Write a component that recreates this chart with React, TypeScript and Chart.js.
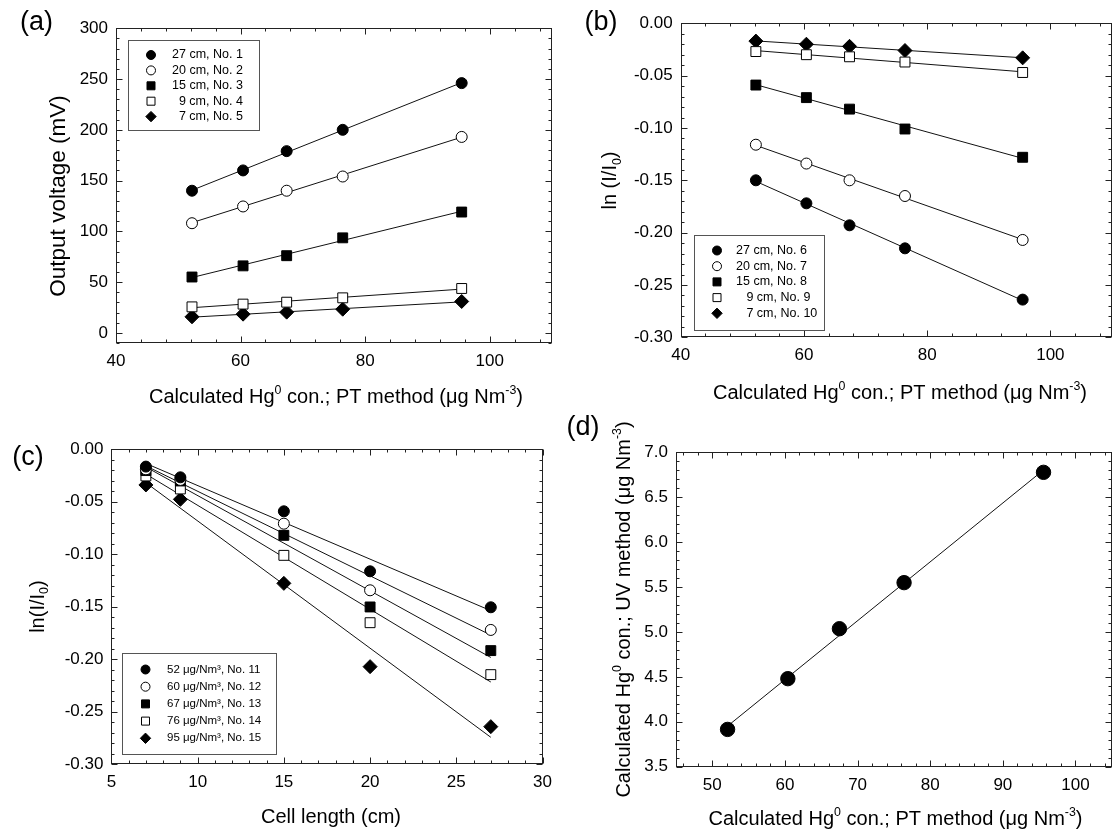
import React, { useEffect, useRef } from 'react';
import { Chart, registerables } from 'chart.js';

Chart.register(...registerables);

const FONT = '"Liberation Sans", Arial, Helvetica, sans-serif';

// ---------- Panel (a): output voltage vs Hg0 concentration ----------
const concPT = [52.2, 60.4, 67.4, 76.4, 95.5];
const voltNo1 = [140, 160, 179, 200, 246];
const voltNo2 = [108, 124.5, 140, 154, 193];
const voltNo3 = [55, 66, 76, 93.6, 119];
const voltNo4 = [25.6, 28.3, 30.2, 34.5, 43.7];
const voltNo5 = [15.8, 18.4, 20.4, 23.3, 30.9];
const legendA = ['27 cm, No. 1', '20 cm, No. 2', '15 cm, No. 3', '  9 cm, No. 4', '  7 cm, No. 5'];
const xTicksA = [40, 60, 80, 100];
const yTicksA = [0, 50, 100, 150, 200, 250, 300];

// ---------- Panel (b): ln(I/I0) vs Hg0 concentration ----------
const lnNo6 = [-0.150, -0.172, -0.193, -0.215, -0.264];
const lnNo7 = [-0.116, -0.134, -0.150, -0.165, -0.207];
const lnNo8 = [-0.059, -0.071, -0.082, -0.101, -0.128];
const lnNo9 = [-0.027, -0.030, -0.032, -0.037, -0.047];
const lnNo10 = [-0.017, -0.020, -0.022, -0.026, -0.033];
const legendB = ['27 cm, No. 6', '20 cm, No. 7', '15 cm, No. 8', '   9 cm, No. 9', '   7 cm, No. 10'];
const xTicksB = [40, 60, 80, 100];
const yTicksLn = [-0.3, -0.25, -0.2, -0.15, -0.1, -0.05, 0];

// ---------- Panel (c): ln(I/I0) vs cell length ----------
const cellLength = [7, 9, 15, 20, 27];
const lnC52 = [-0.0165, -0.0267, -0.0591, -0.1163, -0.1506];
const lnC60 = [-0.0191, -0.0292, -0.0709, -0.1344, -0.1722];
const lnC67 = [-0.0203, -0.0302, -0.0820, -0.1503, -0.1919];
const lnC76 = [-0.0254, -0.0378, -0.1011, -0.1653, -0.2148];
const lnC95 = [-0.0340, -0.0477, -0.1278, -0.2072, -0.2644];
const legendC = ['52 μg/Nm³, No. 11', '60 μg/Nm³, No. 12', '67 μg/Nm³, No. 13', '76 μg/Nm³, No. 14', '95 μg/Nm³, No. 15'];
const xTicksC = [5, 10, 15, 20, 25, 30];

// ---------- Panel (d): UV method vs PT method ----------
const concPTd = [52.1, 60.4, 67.5, 76.4, 95.6];
const concUV = [3.915, 4.48, 5.036, 5.549, 6.777];
const xTicksD = [50, 60, 70, 80, 90, 100];
const yTicksD = [3.5, 4.0, 4.5, 5.0, 5.5, 6.0, 6.5, 7.0];

type Marker = 'circle' | 'openCircle' | 'square' | 'openSquare' | 'diamond';
const MARKERS: Marker[] = ['circle', 'openCircle', 'square', 'openSquare', 'diamond'];
type Seg = { t: string; sup?: boolean; sub?: boolean };

const titlePT: Seg[] = [{ t: 'Calculated Hg' }, { t: '0', sup: true }, { t: ' con.; PT method (μg Nm' }, { t: '-3', sup: true }, { t: ')' }];
const titleUV: Seg[] = [{ t: 'Calculated Hg' }, { t: '0', sup: true }, { t: ' con.; UV method (μg Nm' }, { t: '-3', sup: true }, { t: ')' }];

interface Series { xs: number[]; ys: number[]; marker: Marker; r: number }
interface LegendCfg { box: [number, number, number, number]; mx: number; tx: number; row0: number; gap: number; labels: string[]; size: number }
interface PanelCfg {
  id: string; ox: number; oy: number; w: number; h: number;
  area: { l: number; r: number; t: number; b: number };
  xMin: number; xMax: number; yMin: number; yMax: number;
  xTicks: number[]; yTicks: number[]; xMinor: number; yMinor: number;
  xFmt: (v: number) => string; yFmt: (v: number) => string;
  series: Series[]; legend?: LegendCfg;
  xTitle: Seg[]; xTitlePos: [number, number];
  yTitle: Seg[]; yTitlePos: [number, number]; yTitleSize: number;
  label: string; labelPos: [number, number];
}

function fitLine(xs: number[], ys: number[]) {
  const n = xs.length;
  const mx = xs.reduce((a, b) => a + b, 0) / n;
  const my = ys.reduce((a, b) => a + b, 0) / n;
  let sxx = 0, sxy = 0;
  for (let i = 0; i < n; i++) { sxx += (xs[i] - mx) ** 2; sxy += (xs[i] - mx) * (ys[i] - my); }
  const b = sxy / sxx, a = my - b * mx;
  const x0 = Math.min(...xs), x1 = Math.max(...xs);
  return [{ x: x0, y: a + b * x0 }, { x: x1, y: a + b * x1 }];
}

function drawMarker(ctx: CanvasRenderingContext2D, m: Marker, x: number, y: number, s: number) {
  ctx.save();
  ctx.lineWidth = 1;
  ctx.strokeStyle = '#000';
  ctx.fillStyle = m === 'openCircle' || m === 'openSquare' ? '#fff' : '#000';
  ctx.beginPath();
  if (m === 'circle' || m === 'openCircle') ctx.arc(x, y, s, 0, Math.PI * 2);
  else if (m === 'square' || m === 'openSquare') ctx.rect(x - s, y - s, 2 * s, 2 * s);
  else { ctx.moveTo(x, y - s * 1.3); ctx.lineTo(x + s * 1.3, y); ctx.lineTo(x, y + s * 1.3); ctx.lineTo(x - s * 1.3, y); ctx.closePath(); }
  ctx.fill();
  ctx.stroke();
  ctx.restore();
}

function drawRich(ctx: CanvasRenderingContext2D, segs: Seg[], cx: number, cy: number, size: number, rotate: boolean) {
  ctx.save();
  ctx.translate(cx, cy);
  if (rotate) ctx.rotate(-Math.PI / 2);
  ctx.fillStyle = '#000';
  ctx.textBaseline = 'alphabetic';
  ctx.textAlign = 'left';
  const small = size * 0.62;
  const fonts = segs.map(s => `${s.sup || s.sub ? small : size}px ${FONT}`);
  const widths = segs.map((s, i) => { ctx.font = fonts[i]; return ctx.measureText(s.t).width; });
  const total = widths.reduce((a, b) => a + b, 0);
  let x = -total / 2;
  const base = size * 0.358;
  segs.forEach((s, i) => {
    ctx.font = fonts[i];
    const dy = s.sup ? -size * 0.45 : s.sub ? size * 0.22 : 0;
    ctx.fillText(s.t, x, base + dy);
    x += widths[i];
  });
  ctx.restore();
}

function markerDataset(m: Marker, r: number) {
  const open = m === 'openCircle' || m === 'openSquare';
  const style = m === 'circle' || m === 'openCircle' ? 'circle' : m === 'diamond' ? 'rectRot' : 'rect';
  return {
    pointStyle: style, pointRadius: r, pointHoverRadius: r,
    pointBackgroundColor: open ? '#fff' : '#000', pointBorderColor: '#000', pointBorderWidth: 1,
    backgroundColor: open ? '#fff' : '#000', borderColor: '#000', showLine: false,
  };
}

function decorPlugin(cfg: PanelCfg) {
  return {
    id: 'decor' + cfg.id,
    afterDraw(chart: any) {
      const ctx: CanvasRenderingContext2D = chart.ctx;
      const { left, right, top, bottom } = chart.chartArea;
      const sx = chart.scales.x, sy = chart.scales.y;
      const L = Math.round(left) + 0.5, R = Math.round(right) - 0.5, T = Math.round(top) + 0.5, B = Math.round(bottom) - 0.5;
      ctx.save();
      ctx.strokeStyle = '#222';
      ctx.lineWidth = 1;
      ctx.strokeRect(L, T, R - L, B - T);
      const seg = (x1: number, y1: number, x2: number, y2: number) => { ctx.beginPath(); ctx.moveTo(x1, y1); ctx.lineTo(x2, y2); ctx.stroke(); };
      const tickX = (v: number, len: number) => { const p = Math.round(sx.getPixelForValue(v)) + 0.5; seg(p, B, p, B - len); seg(p, T, p, T + len); };
      const tickY = (v: number, len: number) => { const p = Math.round(sy.getPixelForValue(v)) + 0.5; seg(L, p, L + len, p); seg(R, p, R - len, p); };
      const minorVals = (min: number, max: number, step: number, majors: number[]) => {
        const out: number[] = [];
        for (let k = Math.ceil(min / step - 1e-9); k <= Math.floor(max / step + 1e-9); k++) {
          const v = k * step;
          if (!majors.some(m => Math.abs(m - v) < step * 1e-3)) out.push(v);
        }
        return out;
      };
      cfg.xTicks.forEach(v => tickX(v, 6));
      cfg.yTicks.forEach(v => tickY(v, 6));
      minorVals(cfg.xMin, cfg.xMax, cfg.xMinor, cfg.xTicks).forEach(v => tickX(v, 3));
      minorVals(cfg.yMin, cfg.yMax, cfg.yMinor, cfg.yTicks).forEach(v => tickY(v, 3));
      ctx.restore();

      if (cfg.legend) {
        const lg = cfg.legend;
        const [x1, y1, x2, y2] = lg.box;
        ctx.save();
        ctx.fillStyle = '#fff';
        ctx.fillRect(x1 - cfg.ox, y1 - cfg.oy, x2 - x1, y2 - y1);
        ctx.strokeStyle = '#555';
        ctx.lineWidth = 1;
        ctx.strokeRect(Math.round(x1 - cfg.ox) + 0.5, Math.round(y1 - cfg.oy) + 0.5, Math.round(x2 - x1), Math.round(y2 - y1));
        ctx.font = `${lg.size}px ${FONT}`;
        ctx.textBaseline = 'middle';
        ctx.textAlign = 'left';
        lg.labels.forEach((lab, i) => {
          const y = lg.row0 + i * lg.gap - cfg.oy;
          const m = cfg.series[i].marker;
          drawMarker(ctx, m, lg.mx - cfg.ox, y, m === 'circle' || m === 'openCircle' ? 4.5 : 4);
          ctx.fillStyle = '#000';
          ctx.fillText(lab, lg.tx - cfg.ox, y);
        });
        ctx.restore();
      }

      drawRich(ctx, cfg.xTitle, cfg.xTitlePos[0] - cfg.ox, cfg.xTitlePos[1] - cfg.oy, 20, false);
      drawRich(ctx, cfg.yTitle, cfg.yTitlePos[0] - cfg.ox, cfg.yTitlePos[1] - cfg.oy, cfg.yTitleSize, true);
      drawRich(ctx, [{ t: cfg.label }], cfg.labelPos[0] - cfg.ox, cfg.labelPos[1] - cfg.oy, 27, false);
    },
  };
}

function buildConfig(cfg: PanelCfg): any {
  const datasets: any[] = [];
  cfg.series.forEach(s => {
    datasets.push({ data: s.xs.map((x, i) => ({ x, y: s.ys[i] })), ...markerDataset(s.marker, s.r) });
  });
  cfg.series.forEach(s => {
    datasets.push({ data: fitLine(s.xs, s.ys), showLine: true, pointRadius: 0, pointHoverRadius: 0, borderColor: '#111', borderWidth: 1, fill: false, tension: 0 });
  });
  const font = { family: FONT, size: 17 };
  const areaL = cfg.area.l - cfg.ox, areaR = cfg.area.r - cfg.ox, areaT = cfg.area.t - cfg.oy, areaB = cfg.area.b - cfg.oy;
  return {
    type: 'scatter',
    data: { datasets },
    options: {
      animation: false,
      responsive: false,
      maintainAspectRatio: false,
      events: [],
      layout: { padding: { left: 0, right: cfg.w - areaR, top: areaT, bottom: 0 } },
      plugins: { legend: { display: false }, tooltip: { enabled: false }, title: { display: false } },
      scales: {
        x: {
          type: 'linear', position: 'bottom', min: cfg.xMin, max: cfg.xMax,
          afterBuildTicks: (s: any) => { s.ticks = cfg.xTicks.map(v => ({ value: v })); },
          afterFit: (s: any) => { s.height = cfg.h - areaB; },
          grid: { display: false, drawTicks: false }, border: { display: false },
          ticks: { color: '#000', font, padding: 8, maxRotation: 0, autoSkip: false, callback: (v: any) => cfg.xFmt(Number(v)) },
        },
        y: {
          type: 'linear', position: 'left', min: cfg.yMin, max: cfg.yMax,
          afterBuildTicks: (s: any) => { s.ticks = cfg.yTicks.map(v => ({ value: v })); },
          afterFit: (s: any) => { s.width = areaL; },
          grid: { display: false, drawTicks: false }, border: { display: false },
          ticks: { color: '#000', font, padding: 8, autoSkip: false, callback: (v: any) => cfg.yFmt(Number(v)) },
        },
      },
    },
    plugins: [decorPlugin(cfg)],
  };
}

const intFmt = (v: number) => String(Math.round(v));
const fmt2 = (v: number) => (Math.abs(v) < 1e-9 ? '0.00' : v.toFixed(2));
const fmt1 = (v: number) => v.toFixed(1);

const panels: PanelCfg[] = [
  {
    id: 'a', ox: 0, oy: 0, w: 560, h: 415,
    area: { l: 116, r: 556, t: 28.3, b: 343 },
    xMin: 40, xMax: 110, yMin: -10, yMax: 300,
    xTicks: xTicksA, yTicks: yTicksA, xMinor: 4, yMinor: 10,
    xFmt: intFmt, yFmt: intFmt,
    series: [voltNo1, voltNo2, voltNo3, voltNo4, voltNo5].map((ys, i) => ({ xs: concPT, ys, marker: MARKERS[i], r: i === 4 ? 7 : i >= 2 ? 7 : 5.5 })),
    legend: { box: [127.5, 40, 258, 130], mx: 151, tx: 172, row0: 55, gap: 15.4, labels: legendA, size: 12.5 },
    xTitle: titlePT, xTitlePos: [336, 396],
    yTitle: [{ t: 'Output voltage (mV)' }], yTitlePos: [57, 196], yTitleSize: 22.5,
    label: '(a)', labelPos: [36.6, 20.7],
  },
  {
    id: 'b', ox: 560, oy: 0, w: 560, h: 415,
    area: { l: 680.7, r: 1119, t: 23.3, b: 337.3 },
    xMin: 40, xMax: 110, yMin: -0.3, yMax: 0,
    xTicks: xTicksB, yTicks: yTicksLn, xMinor: 4, yMinor: 0.01,
    xFmt: intFmt, yFmt: fmt2,
    series: [lnNo6, lnNo7, lnNo8, lnNo9, lnNo10].map((ys, i) => ({ xs: concPT, ys, marker: MARKERS[i], r: i === 4 ? 7 : i >= 2 ? 7 : 5.5 })),
    legend: { box: [694, 235, 824, 330], mx: 717, tx: 736, row0: 250.5, gap: 15.7, labels: legendB, size: 12.5 },
    xTitle: titlePT, xTitlePos: [900, 391.7],
    yTitle: [{ t: 'ln (I/I' }, { t: '0', sub: true }, { t: ')' }], yTitlePos: [609, 180.5], yTitleSize: 20,
    label: '(b)', labelPos: [601, 19.9],
  },
  {
    id: 'c', ox: 0, oy: 415, w: 560, h: 415,
    area: { l: 111.4, r: 550.3, t: 449.3, b: 764 },
    xMin: 5, xMax: 30, yMin: -0.3, yMax: 0,
    xTicks: xTicksC, yTicks: yTicksLn, xMinor: 1, yMinor: 0.01,
    xFmt: intFmt, yFmt: fmt2,
    series: [lnC52, lnC60, lnC67, lnC76, lnC95].map((ys, i) => ({ xs: cellLength, ys, marker: MARKERS[i], r: i === 4 ? 7 : i >= 2 ? 7 : 5.5 })),
    legend: { box: [122.3, 653, 276.7, 754], mx: 145.5, tx: 167, row0: 669.5, gap: 17.2, labels: legendC, size: 11.5 },
    xTitle: [{ t: 'Cell length (cm)' }], xTitlePos: [331, 815.7],
    yTitle: [{ t: 'ln(I/I' }, { t: '0', sub: true }, { t: ')' }], yTitlePos: [36.6, 606.6], yTitleSize: 20,
    label: '(c)', labelPos: [28, 455.4],
  },
  {
    id: 'd', ox: 560, oy: 415, w: 560, h: 415,
    area: { l: 676, r: 1115, t: 452.3, b: 766.7 },
    xMin: 45, xMax: 105, yMin: 3.5, yMax: 7.0,
    xTicks: xTicksD, yTicks: yTicksD, xMinor: 2, yMinor: 0.1,
    xFmt: intFmt, yFmt: fmt1,
    series: [{ xs: concPTd, ys: concUV, marker: 'circle', r: 7.2 }],
    xTitle: titlePT, xTitlePos: [895.5, 818.3],
    yTitle: titleUV, yTitlePos: [622.5, 609.5], yTitleSize: 20,
    label: '(d)', labelPos: [583, 425.4],
  },
];

function Panel({ cfg }: { cfg: PanelCfg }) {
  const ref = useRef<HTMLCanvasElement>(null);
  useEffect(() => {
    if (!ref.current) return;
    const chart = new Chart(ref.current, buildConfig(cfg));
    return () => chart.destroy();
  }, [cfg]);
  return (
    <canvas
      ref={ref}
      width={cfg.w}
      height={cfg.h}
      style={{ position: 'absolute', left: cfg.ox, top: cfg.oy, width: cfg.w, height: cfg.h }}
    />
  );
}

export default function App() {
  return (
    <div style={{ position: 'absolute', left: 0, top: 0, width: 1120, height: 830, background: '#fff', overflow: 'hidden' }}>
      {panels.map(p => <Panel key={p.id} cfg={p} />)}
    </div>
  );
}
